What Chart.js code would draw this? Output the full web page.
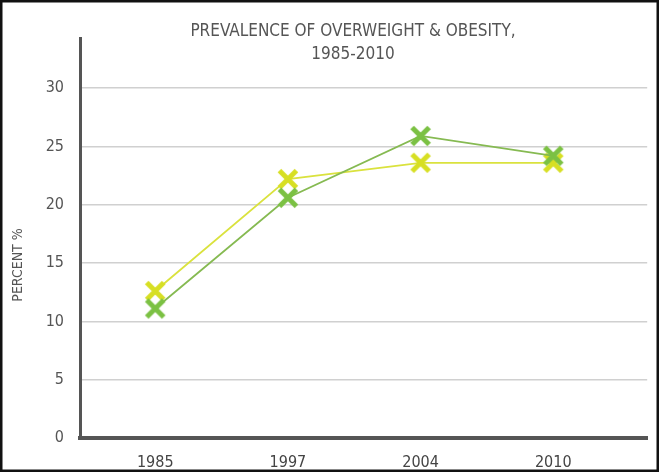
<!DOCTYPE html>
<html>
<head>
<meta charset="utf-8">
<script src="https://cdn.jsdelivr.net/npm/chart.js@4/dist/chart.umd.min.js"></script>
<style>
  html, body { margin: 0; padding: 0; background: #ffffff; }
  #wrap { width: 659px; height: 472px; position: relative; }
</style>
</head>
<body>
<div id="wrap"><canvas id="chart" width="659" height="472"></canvas></div>
<script>
// Survey years (x categories) and prevalence in percent
const years = ['1985', '1997', '2004', '2010'];
const overweightGreen = [11.1, 20.6, 25.9, 24.2];
const overweightYellow = [12.6, 22.2, 23.6, 23.6];
const yTickValues = [0, 5, 10, 15, 20, 25, 30];
const titleLines = ['PREVALENCE OF OVERWEIGHT & OBESITY,', '1985-2010'];
const yAxisTitle = 'PERCENT %';

const FONT = "'Liberation Sans Narrow', 'DejaVu Sans Condensed', 'Liberation Sans', sans-serif";
const GREEN = '#7bc143';
const YELLOW = '#d7df23';

// Heavy "X" glyph used as the point marker
function xMarker(color) {
  const size = 24;
  const c = document.createElement('canvas');
  c.width = size; c.height = size;
  const g = c.getContext('2d');
  g.strokeStyle = color;
  g.lineWidth = 5;
  g.lineCap = 'butt';
  const a = 3.5, b = size - 3.5;
  g.beginPath();
  g.moveTo(a, a); g.lineTo(b, b);
  g.moveTo(b, a); g.lineTo(a, b);
  g.stroke();
  return c;
}

// Titles and the outer frame
const captions = {
  id: 'captions',
  afterDraw(chart) {
    const ctx = chart.ctx;
    ctx.save();
    ctx.fillStyle = '#555555';
    ctx.textAlign = 'center';
    ctx.textBaseline = 'middle';
    ctx.font = '17px ' + FONT;
    ctx.fillText(titleLines[0], 353, 32);
    ctx.fillText(titleLines[1], 353, 55);

    ctx.translate(18, 265);
    ctx.rotate(-Math.PI / 2);
    ctx.font = '14px ' + FONT;
    ctx.fillText(yAxisTitle, 0, 0);
    ctx.restore();

    ctx.save();
    ctx.strokeStyle = '#111111';
    ctx.lineWidth = 2.5;
    ctx.strokeRect(1.25, 1.25, chart.width - 2.5, chart.height - 2.5);
    ctx.restore();
  }
};

new Chart(document.getElementById('chart'), {
  type: 'line',
  data: {
    datasets: [
      {
        label: 'Green',
        data: overweightGreen.map((v, i) => ({ x: i, y: v })),
        borderColor: '#86ba52',
        borderWidth: 1.8,
        pointStyle: xMarker(GREEN),
        pointRadius: 10,
        tension: 0
      },
      {
        label: 'Yellow',
        data: overweightYellow.map((v, i) => ({ x: i, y: v })),
        borderColor: '#dae23e',
        borderWidth: 1.8,
        pointStyle: xMarker(YELLOW),
        pointRadius: 10,
        tension: 0
      }
    ]
  },
  options: {
    responsive: false,
    animation: false,
    devicePixelRatio: 1,
    layout: { padding: { top: 38, right: 7, bottom: 0, left: 0 } },
    plugins: {
      legend: { display: false },
      title: { display: false },
      tooltip: { enabled: false }
    },
    scales: {
      x: {
        type: 'linear',
        min: -0.567,
        max: 3.708,
        afterBuildTicks(scale) {
          scale.ticks = years.map((_, i) => ({ value: i }));
        },
        afterFit(scale) { scale.height = 34; },
        grid: { display: false },
        border: { display: true, color: '#555555', width: 4 },
        ticks: {
          callback: (v) => years[v],
          color: '#444444',
          font: { family: FONT, size: 16 },
          padding: 7,
          autoSkip: false,
          maxRotation: 0
        }
      },
      y: {
        min: 0,
        max: 34.3,
        afterBuildTicks(scale) {
          scale.ticks = yTickValues.map(v => ({ value: v }));
        },
        afterFit(scale) { scale.width = 80; },
        grid: { color: '#d0d0d0', lineWidth: 1.5, drawTicks: false },
        border: { display: true, color: '#555555', width: 3 },
        ticks: {
          color: '#555555',
          font: { family: FONT, size: 16 },
          padding: 16
        }
      }
    }
  },
  plugins: [captions]
});
</script>
</body>
</html>
